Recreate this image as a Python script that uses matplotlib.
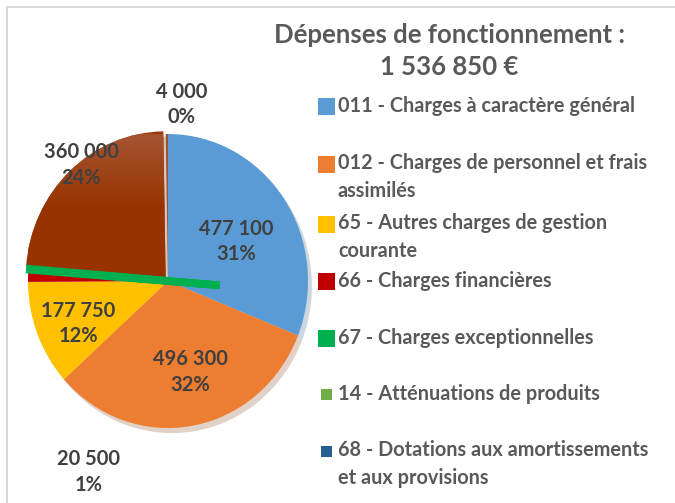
import numpy as np
import matplotlib.pyplot as plt
from matplotlib.colors import LinearSegmentedColormap
from matplotlib.patches import Rectangle
from matplotlib.lines import Line2D

plt.rcParams['font.family'] = ['Lato', 'DejaVu Sans']

title = "Dépenses de fonctionnement :\n1 536 850 €"

# slices, clockwise from the top
slice_values = [477100, 496300, 177750, 20500, 1200, 360000, 4000]
slice_colors = ["#5B9BD5", "#ED7D31", "#FFC000", "#C00000", "#00B050", "#9A3A0C", "#A0522D"]
value_labels = ["477 100", "496 300", "177 750", "20 500", None, "360 000", "4 000"]
pct_labels = ["31%", "32%", "12%", "1%", None, "24%", "0%"]

legend_labels = [
    "011 - Charges à caractère général",
    "012 - Charges de personnel et frais\nassimilés",
    "65 - Autres charges de gestion\ncourante",
    "66 - Charges financières",
    "67 - Charges exceptionnelles",
    "14 - Atténuations de produits",
    "68 - Dotations aux amortissements\net aux provisions",
]
legend_colors = ["#5B9BD5", "#ED7D31", "#FFC000", "#C00000", "#00B050", "#70AD47", "#255E91"]

W, H = 675, 503
fig = plt.figure(figsize=(W / 100, H / 100), dpi=100)

# light frame (top and left visible)
fig.add_artist(Line2D([7 / W, 7 / W], [0, 1 - 7 / H], color="#d9d9d9", lw=1.5))
fig.add_artist(Line2D([7 / W, 1], [1 - 7 / H, 1 - 7 / H], color="#d9d9d9", lw=1.5))

# pie axes: centre (168, 281) px, radii 140 x 147 px
cx, cy, rx, ry = 168, 281, 140, 147
ax = fig.add_axes([(cx - rx) / W, (H - cy - ry) / H, 2 * rx / W, 2 * ry / H])
explode = [0, 0, 0, 0, -0.37, 0.025, 0]
wedges, _ = ax.pie(slice_values, colors=slice_colors, startangle=90, counterclock=False,
                   explode=explode, radius=1.0,
                   shadow={"ox": 0.02, "oy": -0.025, "shade": 0.4, "alpha": 0.25},
                   wedgeprops=dict(linewidth=0))
ax.set_xlim(-1, 1)
ax.set_ylim(-1, 1)
ax.set_aspect("auto")
ax.axis("off")

# brown slice has a vertical gradient in the original
brown = wedges[5]
grad = LinearSegmentedColormap.from_list("brown", ["#983300", "#983300", "#A85B3C"])
img = ax.imshow(np.linspace(0, 1, 100).reshape(-1, 1), cmap=grad, origin="lower",
                extent=(-1.1, 0.1, -0.1, 1.1), aspect="auto", zorder=brown.get_zorder() + 0.1)
img.set_clip_path(brown)
ax.set_xlim(-1, 1)
ax.set_ylim(-1, 1)

# the thin green slice is drawn as a long band in the original
green = wedges[4]
green.set_radius(1.36)
green.set_edgecolor("#00B050")
green.set_linewidth(5.5)
green.set_zorder(3)

# data label positions (data coords)
label_pos = [(0.49, 0.27), (0.16, -0.62), (-0.64, -0.29), (-0.57, -1.30), None, (-0.62, 0.79), (0.10, 1.20)]
for val, pct, pos in zip(value_labels, pct_labels, label_pos):
    if val is None:
        continue
    ax.text(pos[0], pos[1], f"{val}\n{pct}", ha="center", va="center", fontsize=14.5,
            fontweight="bold", color="#404040", linespacing=1.35, clip_on=False, zorder=5)

fig.text(449 / W, 1 - 51 / H, title, ha="center", va="center", fontsize=18.5,
         fontweight="bold", color="#595959", linespacing=1.4)

# legend
row_y = [106, 164, 224, 281, 338, 394, 451]
for lab, col, y in zip(legend_labels, legend_colors, row_y):
    s = 17 if col not in ("#70AD47", "#255E91") else 11
    x0 = 326 - s / 2
    fig.add_artist(Rectangle((x0 / W, 1 - (y + s / 2) / H), s / W, s / H,
                             facecolor=col, edgecolor="none", transform=fig.transFigure))
    if "\n" in lab:
        fig.text(338 / W, 1 - (y - 11) / H, lab, ha="left", va="top",
                 fontsize=14.3, fontweight="bold", color="#595959", linespacing=1.5)
    else:
        fig.text(338 / W, 1 - y / H, lab, ha="left", va="center",
                 fontsize=14.3, fontweight="bold", color="#595959")

fig.savefig("out.png", dpi=100)
